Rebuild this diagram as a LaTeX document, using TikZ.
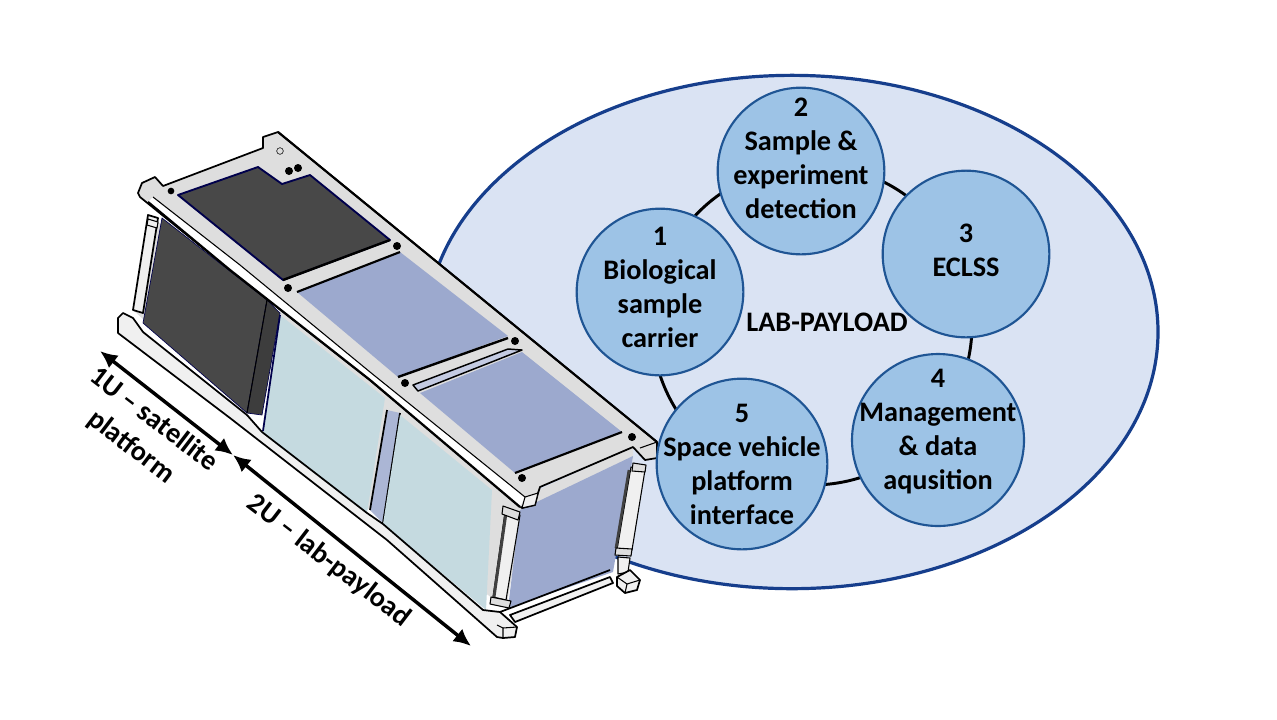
\documentclass[tikz,border=0pt]{standalone}
\usepackage{fontspec}
\setmainfont{Carlito}
\usetikzlibrary{arrows.meta,shapes.geometric}
\definecolor{ellfill}{HTML}{DAE3F3}
\definecolor{ellline}{HTML}{163E8C}
\definecolor{circfill}{HTML}{9DC3E6}
\definecolor{circline}{HTML}{1F5594}
\definecolor{darkpanel}{HTML}{484848}
\definecolor{bluepanel}{HTML}{9CA9CE}
\definecolor{lightpanel}{HTML}{C5DAE0}
\definecolor{railgray}{HTML}{DEDEDE}
\definecolor{railwhite}{HTML}{F0F0F0}
\tikzset{
  unit/.style={circle,draw=circline,line width=1.6pt,fill=circfill,inner sep=0pt},
  unittext/.style={inner sep=0pt,align=center,font=\fontsize{21.2}{25.5}\selectfont\bfseries},
  ringline/.style={draw=black,line width=2.2pt},
  edge/.style={draw=black,line width=1.3pt,line join=round},
  thin edge/.style={draw=black,line width=.8pt,line join=round},
  panel/.style={draw=black!70!blue,line width=.5pt,line join=round},
  hole/.style={circle,fill=black,inner sep=0pt,minimum size=6pt},
  dim/.style={line width=2.6pt,{Latex[length=13pt,width=12pt]}-{Latex[length=13pt,width=12pt]}},
  dimlabel/.style={rotate=-37.5,font=\fontsize{21.2}{22}\selectfont\bfseries,align=center,inner sep=0pt}
}
\begin{document}
\begin{tikzpicture}[x=0.75pt,y=-0.75pt]
\useasboundingbox (0,0) rectangle (1277,719);
\fill[white] (0,0) rectangle (1277,719);
% payload ellipse and ring
\node[ellipse,draw=ellline,line width=2.4pt,fill=ellfill,minimum width=549pt,minimum height=385pt,inner sep=0pt] (payload) at (792,332) {};
\node[circle,ringline,minimum size=240pt,inner sep=0pt] (ring) at (812,325) {};
\node[font=\fontsize{21.2}{24}\selectfont\bfseries,inner sep=0pt] (lab) at (827,322) {LAB-PAYLOAD};
% cubesat: side faces
\fill[railgray] (148,215) -- (267,300) -- (280,313) -- (247,413) -- (133,310) -- cycle;
\fill[railgray] (280,310) -- (525,505) -- (506,608) -- (262,432) -- cycle;
\path[panel,fill=darkpanel] (162,218) -- (267,300) -- (247,413) -- (143,323) -- cycle;
\path[panel,fill=darkpanel!85!black] (267,300) -- (280,313) -- (262,415) -- (247,413) -- cycle;
\draw[thin edge] (267,300) -- (247,413);
\path[fill=lightpanel] (280,315) -- (385,398) -- (367,513) -- (263,432) -- cycle;
\draw[edge,draw=black!70!blue] (280,315) -- (263,431);
\path[fill=bluepanel!85!white] (387,410) -- (400,413) -- (383,523) -- (370,510) -- cycle;
\draw[edge] (387,410) -- (370,510);
\draw[edge] (400,413) -- (383,523);
\path[fill=lightpanel] (400,415) -- (492,490) -- (486,610) -- (383,524) -- cycle;
\fill[railgray] (538,490) -- (633,447) -- (633,460) -- (520,512) -- cycle;
\path[fill=bluepanel] (520,510) -- (633,456) -- (613,572) -- (508,608) -- cycle;
% rear post
\path[edge,fill=railwhite] (148,215) -- (158,218) -- (143,313) -- (133,310) -- cycle;
\draw[thin edge,fill=railwhite] (148,219) -- (158,222) -- (157,228) -- (147,225) -- cycle;
% front posts
\path[thin edge,fill=railwhite] (505,512) -- (520,515) -- (506,600) -- (493,597) -- cycle;
\draw[line width=2.2pt,black!75] (506,513) -- (494,597);
\draw[thin edge,fill=railgray] (503,506) -- (520,512) -- (518,520) -- (502,514) -- cycle;
\draw[thin edge,fill=railgray] (491,597) -- (511,601) -- (509,608) -- (490,604) -- cycle;
\path[thin edge,fill=railwhite] (631,467) -- (645,470) -- (632,550) -- (617,550) -- cycle;
\draw[line width=2pt,black!75] (629,470) -- (616,548);
\draw[thin edge,fill=railgray] (633,463) -- (646,465) -- (645,472) -- (632,471) -- cycle;
\draw[thin edge,fill=railgray] (616,548) -- (632,549) -- (631,556) -- (615,555) -- cycle;
\path[thin edge,fill=railwhite] (618,557) -- (630,558) -- (628,572) -- (618,574) -- cycle;
% bottom rail
\path[edge,fill=railwhite] (118,318) -- (123,313) -- (133,318) -- (143,332) -- (247,415) -- (262,432) -- (367,513) -- (383,524) -- (483,610) -- (500,612) -- (517,627) -- (515,637) -- (503,638) -- (497,637) -- (387,540) -- (230,418) -- (118,333) -- cycle;
\draw[thin edge] (497,625) -- (503,628) -- (503,638);
\draw[thin edge] (503,628) -- (517,627);
% end bottom rail and block
\path[edge,fill=railwhite] (510,615) -- (610,577) -- (613,583) -- (515,622) -- cycle;
\draw[edge] (500,612) -- (610,570);
\path[edge,fill=railwhite] (617,577) -- (630,570) -- (640,580) -- (637,590) -- (625,593) -- (617,586) -- cycle;
\draw[thin edge] (617,577) -- (627,584) -- (640,580);
\draw[thin edge] (627,584) -- (625,593);
% top plate
\path[edge,fill=railgray] (163,186) -- (263,148) -- (263,137) -- (278,132) -- (657,442) -- (657,458) -- (645,460) -- (633,447) -- (540,487) -- (538,493) -- (535,505) -- (522,508) -- (370,380) -- (230,270) -- (140,197) -- (138,193) -- (142,183) -- (155,177) -- cycle;
% top panels
\path[panel,line width=1.4pt,fill=darkpanel] (178,195) -- (258,167) -- (282,184) -- (310,175) -- (390,240) -- (283,280) -- cycle;
\path[fill=bluepanel] (297,292) -- (400,252) -- (508,336) -- (398,377) -- cycle;
\path[fill=bluepanel] (420,393) -- (522,352) -- (622,432) -- (515,473) -- cycle;
% crossbar edges
\draw[edge,line width=1.8pt] (283,280) -- (390,240);
\draw[edge,line width=1.6pt] (297,292) -- (400,252);
\draw[edge,line width=1.8pt] (398,377) -- (508,338);
\draw[edge,fill=bluepanel!60!white,line width=1.1pt] (413,385) -- (508,349) -- (522,350) -- (418,391) -- cycle;
\draw[edge,line width=1.6pt] (515,473) -- (622,432);
% front rail stripes
\fill[white] (153,197) -- (240,265) -- (370,372) -- (525,497) -- (520,507) -- (370,380) -- (230,270) -- (148,202) -- cycle;
\draw[thin edge] (153,197) -- (240,265) -- (370,372) -- (525,497);
\draw[edge,line width=1.7pt] (148,202) -- (230,270) -- (370,380) -- (520,507);
\draw[thin edge,fill=railwhite] (525,497) -- (538,493) -- (535,505) -- (522,508) -- cycle;
\draw[edge,line width=1.6pt] (278,132) -- (657,442);
\draw[edge,line width=.8pt] (657,442) -- (640,448);
% holes
\node[hole,minimum size=5pt] (h1) at (171,191) {};
\node[circle,draw=black,fill=railgray,minimum size=5pt,inner sep=0pt] (h2) at (280,151) {};
\node[hole] (h3) at (289,171) {};
\node[hole] (h4) at (298,168) {};
\node[hole] (h5) at (397,246) {};
\node[hole] (h6) at (288,288) {};
\node[hole] (h7) at (405,383) {};
\node[hole] (h8) at (515,341) {};
\node[hole] (h9) at (522,478) {};
\node[hole] (h10) at (632,437) {};
% units
\node[unit,minimum size=125pt] (u1) at (660,292) {};
\node[unit,minimum size=125pt] (u2) at (801,171) {};
\node[unit,minimum size=125pt] (u3) at (966,254) {};
\node[unit,minimum size=129pt] (u4) at (938,440) {};
\node[unit,minimum size=128pt] (u5) at (742,464) {};
\node[unittext] (t1) at (660,287) {1\\Biological\\sample\\carrier};
\node[unittext] (t2) at (801,158) {2\\Sample \&\\experiment\\detection};
\node[unittext] (t3) at (966,250) {3\\ECLSS};
\node[unittext] (t4) at (938,432) {4\\Management\\\& data\\aqusition};
\node[unittext] (t5) at (742,464) {5\\Space vehicle\\platform\\interface};
% dimensions
\coordinate (a) at (100,351);
\coordinate (b) at (233,455);
\coordinate (c) at (471,646);
\draw[dim] (a) -- (b);
\draw[dim] (b) -- (c);
\node[dimlabel] (l1) at (155,418) {1U – satellite};
\node[dimlabel] (l2) at (131,447) {platform};
\node[dimlabel] (l3) at (329,561) {2U – lab-payload};
\end{tikzpicture}
\end{document}
